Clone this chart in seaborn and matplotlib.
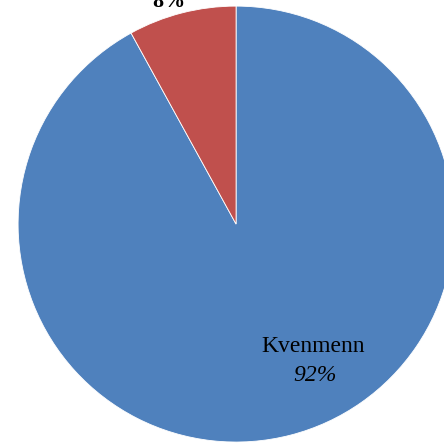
import matplotlib
matplotlib.use("Agg")
import matplotlib.pyplot as plt
import seaborn as sns

# data
labels = ["Kvenmenn", "Andre"]
shares = [92, 8]
colors = ["#4F81BD", "#C0504D"]

sns.set_theme(style="white")
plt.rcParams['font.family'] = ['Liberation Serif', 'DejaVu Serif']

fig = plt.figure(figsize=(4.44, 4.44), dpi=100)
ax = fig.add_axes([0, 0, 1, 1])

ax.pie(shares, colors=colors, startangle=90, counterclock=False,
       radius=1.0, center=(0, 0),
       wedgeprops=dict(edgecolor="white", linewidth=0.6))

# pie is bigger than the frame, cropped on the right
ax.set_xlim(-1.083, 0.954)
ax.set_ylim(-1.009, 1.028)
ax.set_aspect("equal")
ax.axis("off")

# labels
ax.text(0.355, -0.56, labels[0], ha="center", va="center", fontsize=17, color="black")
ax.text(0.36, -0.695, f"{shares[0]}%", ha="center", va="center", fontsize=17,
        style="italic", color="black")
ax.text(-0.31, 1.02, f"{shares[1]}%", ha="center", va="center", fontsize=16,
        fontweight="bold", color="black", clip_on=False)

fig.savefig("out.png", dpi=100)
